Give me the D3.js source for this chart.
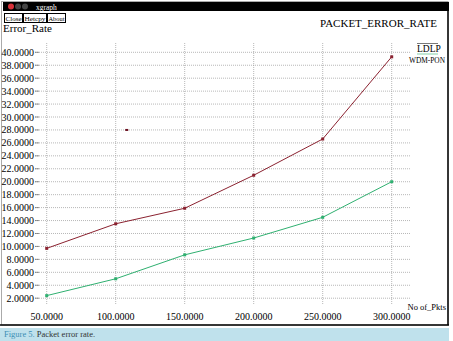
<!DOCTYPE html>
<html><head><meta charset="utf-8">
<script src="https://cdn.jsdelivr.net/npm/d3@7"></script>
<style>body{margin:0;background:#fff}svg{display:block}</style>
</head><body>
<svg id="c" width="453" height="341"></svg>
<script>
const xValues = [50, 100, 150, 200, 250, 300];
const ldlp = [9.7, 13.5, 15.9, 21.0, 26.6, 39.3];
const wdmpon = [2.4, 5.0, 8.7, 11.3, 14.5, 20.0];
const strayPoint = [[108, 28.0]];
const yTicks = d3.range(2, 41, 2);
const xTicks = [50, 100, 150, 200, 250, 300];
const seriesNames = ["LDLP", "WDM-PON"];
const colors = ["#8b2230", "#2fb070"];

const svg = d3.select("#c");
const serif = "'Liberation Serif','DejaVu Serif',serif";

// window frame
svg.append("rect").attr("x",1.5).attr("y",1.5).attr("width",446.5).attr("height",323.5)
  .attr("fill","#fff").attr("stroke","#aaa");
svg.append("line").attr("x1",448).attr("x2",448).attr("y1",11).attr("y2",325).attr("stroke","#000").attr("stroke-width",1.5);
svg.append("line").attr("x1",0).attr("x2",449).attr("y1",325).attr("y2",325).attr("stroke","#000").attr("stroke-width",1.5);
// title bar
svg.append("rect").attr("x",3).attr("y",2).attr("width",446).attr("height",9).attr("fill","#000");
[["#d8323a",11],["#444",18],["#444",25]].forEach(([c,x])=>svg.append("circle").attr("cx",x).attr("cy",6.5).attr("r",3).attr("fill",c));
svg.append("text").attr("x",36).attr("y",9.5).attr("fill","#fff").attr("font-family",serif).attr("font-size",7.5).text("xgraph");
// buttons
[["Close",4,18],["Hetcpy",23,23],["About",47,18]].forEach(([t,x,w])=>{
  svg.append("rect").attr("x",x+0.5).attr("y",13.5).attr("width",w).attr("height",9).attr("fill","#fff").attr("stroke","#000");
  svg.append("text").attr("x",x+w/2+0.5).attr("y",21).attr("text-anchor","middle").attr("font-family",serif).attr("font-size",6.8)
    .attr("textLength",w-2).attr("lengthAdjust","spacingAndGlyphs").text(t);
});
svg.append("text").attr("x",3).attr("y",32).attr("font-family",serif).attr("font-size",11).text("Error_Rate");
svg.append("text").attr("x",437).attr("y",27).attr("text-anchor","end").attr("font-family",serif).attr("font-size",11).text("PACKET_ERROR_RATE");

const x = d3.scaleLinear().domain([50,300]).range([46.7,391.7]);
const y = d3.scaleLinear().domain([2,40]).range([298.2,52.3]);

// horizontal grid
const gy = svg.append("g");
yTicks.forEach(v=>{
  gy.append("line").attr("x1",35).attr("x2",410).attr("y1",y(v)).attr("y2",y(v))
    .attr("stroke","#999").attr("stroke-width",0.7).attr("stroke-dasharray","1,1");
  gy.append("line").attr("x1",35).attr("x2",39).attr("y1",y(v)).attr("y2",y(v)).attr("stroke","#666").attr("stroke-width",0.7);
  gy.append("text").attr("x",34).attr("y",y(v)+3.5).attr("text-anchor","end").attr("font-family",serif).attr("font-size",10).text(v.toFixed(4));
});
// vertical grid
const gx = svg.append("g");
xTicks.forEach(v=>{
  gx.append("line").attr("x1",x(v)).attr("x2",x(v)).attr("y1",43).attr("y2",305)
    .attr("stroke","#999").attr("stroke-width",0.7).attr("stroke-dasharray","1,1");
  gx.append("text").attr("x",x(v)).attr("y",320).attr("text-anchor","middle").attr("font-family",serif).attr("font-size",10).text(v.toFixed(4));
});
svg.append("text").attr("x",446).attr("y",310).attr("text-anchor","end").attr("font-family",serif).attr("font-size",8.5).text("No of_Pkts");

// series
const line = d3.line().x(d=>x(d[0])).y(d=>y(d[1]));
[ldlp, wdmpon].forEach((vals,i)=>{
  const pts = xValues.map((xv,j)=>[xv, vals[j]]);
  svg.append("path").datum(pts).attr("d",line).attr("fill","none").attr("stroke",colors[i]).attr("stroke-width",1);
  svg.selectAll(null).data(pts).enter().append("rect")
    .attr("x",d=>x(d[0])-1.5).attr("y",d=>y(d[1])-1.5).attr("width",3).attr("height",3).attr("fill",colors[i]);
});
svg.selectAll(null).data(strayPoint).enter().append("rect")
  .attr("x",d=>x(d[0])-1.5).attr("y",d=>y(d[1])-1).attr("width",3).attr("height",2).attr("fill","#6a1020");

// legend
svg.append("line").attr("x1",417).attr("x2",438).attr("y1",43.5).attr("y2",43.5).attr("stroke","#555").attr("stroke-width",0.8);
svg.append("text").attr("x",417).attr("y",52).attr("font-family",serif).attr("font-size",9.5).text(seriesNames[0]);
svg.append("line").attr("x1",417).attr("x2",438).attr("y1",54).attr("y2",54).attr("stroke",colors[1]).attr("stroke-width",0.6);
svg.append("text").attr("x",409).attr("y",62.5).attr("font-family",serif).attr("font-size",9)
  .attr("textLength",36).attr("lengthAdjust","spacingAndGlyphs").text(seriesNames[1]);

// caption
svg.append("rect").attr("x",0).attr("y",328).attr("width",449).attr("height",13).attr("fill","#bfe1ec");
const cap = svg.append("text").attr("x",4).attr("y",337).attr("font-family",serif).attr("font-size",8.5);
cap.append("tspan").attr("fill","#3b8fb5").text("Figure 5. ");
cap.append("tspan").attr("fill","#333").text("Packet error rate.");
</script>
</body></html>
